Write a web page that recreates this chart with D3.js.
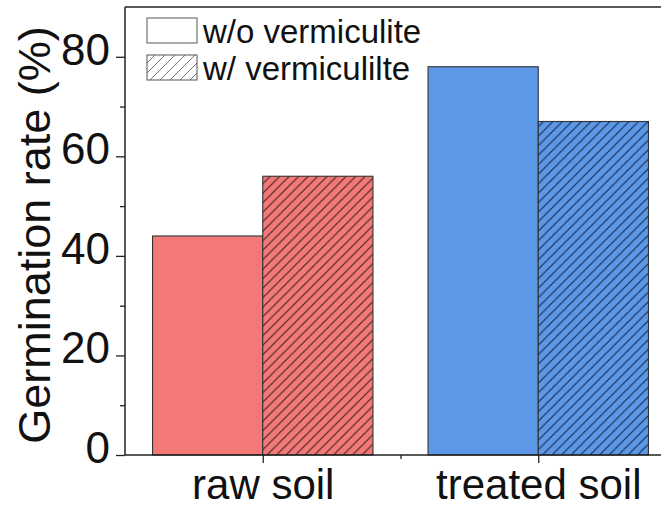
<!DOCTYPE html>
<html>
<head>
<meta charset="utf-8">
<script src="https://cdn.jsdelivr.net/npm/d3@7"></script>
<style>
  html, body { margin: 0; padding: 0; background: #fff; }
  svg { display: block; }
  text { font-family: "Liberation Sans", Arial, sans-serif; fill: #111; }
</style>
</head>
<body>
<svg id="chart" width="661" height="508"></svg>
<script>
// Germination rate by soil type, with and without vermiculite
const categories = ["raw soil", "treated soil"];
const seriesNames = ["w/o vermiculite", "w/ vermiculilte"];
const withoutVermiculite = [44, 78];
const withVermiculite = [56, 67];
const categoryColors = ["#F37878", "#5C98E6"];
const yTicks = [0, 20, 40, 60, 80];
const yMinorTicks = [10, 30, 50, 70];

const svg = d3.select("#chart");
const W = 661, H = 508;
const plotLeft = 125, plotTop = 7, plotBottom = 455, plotRight = 676;
const fontStack = '"Liberation Sans", Arial, sans-serif';

// numeric category positions 1, 2 on a continuous axis from 0.5 to 2.5
const x = d3.scaleLinear().domain([0.5, 2.5]).range([plotLeft, plotRight]);
const y = d3.scaleLinear().domain([0, 90]).range([plotBottom, plotTop]);
const barW = 0.4;

const defs = svg.append("defs");
function hatch(id, bg, stroke, size, sw) {
  const p = defs.append("pattern")
    .attr("id", id).attr("patternUnits", "userSpaceOnUse")
    .attr("width", size).attr("height", size);
  if (bg) p.append("rect").attr("width", size).attr("height", size).attr("fill", bg);
  p.append("path")
    .attr("d", `M0,${size} L${size},0 M${-size/4},${size/4} L${size/4},${-size/4} M${size*3/4},${size*5/4} L${size*5/4},${size*3/4}`)
    .attr("stroke", stroke).attr("stroke-width", sw);
}
hatch("hatch0", categoryColors[0], "#3a2020", 9.5, 1.1);
hatch("hatch1", categoryColors[1], "#14264a", 9.5, 1.1);
hatch("hatchLegend", "#fff", "#666", 10, 0.9);

const bars = [];
categories.forEach((c, i) => {
  bars.push({ pos: i + 1 - barW / 2, v: withoutVermiculite[i], fill: categoryColors[i] });
  bars.push({ pos: i + 1 + barW / 2, v: withVermiculite[i], fill: `url(#hatch${i})` });
});

svg.append("g").selectAll("rect").data(bars).join("rect")
  .attr("x", d => x(d.pos - barW / 2))
  .attr("y", d => y(d.v))
  .attr("width", d => x(d.pos + barW / 2) - x(d.pos - barW / 2))
  .attr("height", d => y(0) - y(d.v))
  .attr("fill", d => d.fill)
  .attr("stroke", "#333")
  .attr("stroke-width", 1.1);

// frame lines
const axisColor = "#222";
svg.append("line").attr("x1", plotLeft).attr("x2", W).attr("y1", plotTop).attr("y2", plotTop)
  .attr("stroke", axisColor).attr("stroke-width", 1.5);

// y axis
const yAxis = svg.append("g").attr("transform", `translate(${plotLeft},0)`)
  .call(d3.axisLeft(y).tickValues(yTicks).tickSize(9).tickPadding(6).tickFormat(d3.format("d")));
yAxis.select(".domain").attr("stroke", axisColor).attr("stroke-width", 1.5)
  .attr("d", `M0,${plotTop}V${plotBottom}`);
yAxis.selectAll(".tick line").attr("stroke", axisColor).attr("stroke-width", 1.3);
yAxis.selectAll(".tick text").attr("font-size", 44).attr("dy", 7.5)
  .style("font-family", fontStack).attr("fill", "#111");
const yMinor = svg.append("g").attr("transform", `translate(${plotLeft},0)`)
  .call(d3.axisLeft(y).tickValues(yMinorTicks).tickSize(5).tickFormat(""));
yMinor.select(".domain").remove();
yMinor.selectAll(".tick line").attr("stroke", axisColor).attr("stroke-width", 1.3);

// x axis
const xAxis = svg.append("g").attr("transform", `translate(0,${plotBottom})`)
  .call(d3.axisBottom(x).tickValues([1, 2]).tickSize(8)
    .tickFormat((d, i) => categories[i]));
xAxis.select(".domain").attr("stroke", axisColor).attr("stroke-width", 1.5)
  .attr("d", `M${plotLeft},0H${W}`);
xAxis.selectAll(".tick line").attr("stroke", axisColor).attr("stroke-width", 1.3);
xAxis.selectAll(".tick text").attr("font-size", 42).attr("y", 44).attr("dy", null)
  .style("font-family", fontStack).attr("fill", "#111");
const xMinor = svg.append("g").attr("transform", `translate(0,${plotBottom})`)
  .call(d3.axisBottom(x).tickValues([1.5]).tickSize(4).tickFormat(""));
xMinor.select(".domain").remove();
xMinor.selectAll(".tick line").attr("stroke", axisColor).attr("stroke-width", 1.3);

// y axis title
svg.append("text")
  .attr("transform", `translate(50,235) rotate(-90)`)
  .attr("text-anchor", "middle")
  .attr("font-size", 45)
  .text("Germination rate (%)");

// legend
const legend = svg.append("g");
const legendFills = ["#fff", "url(#hatchLegend)"];
seriesNames.forEach((name, i) => {
  const ly = 18 + i * 37;
  legend.append("rect").attr("x", 147).attr("y", ly).attr("width", 50).attr("height", 25)
    .attr("fill", legendFills[i]).attr("stroke", "#555").attr("stroke-width", 1);
  legend.append("text").attr("x", 203).attr("y", ly + 25)
    .attr("font-size", 33).text(name);
});
</script>
</body>
</html>
